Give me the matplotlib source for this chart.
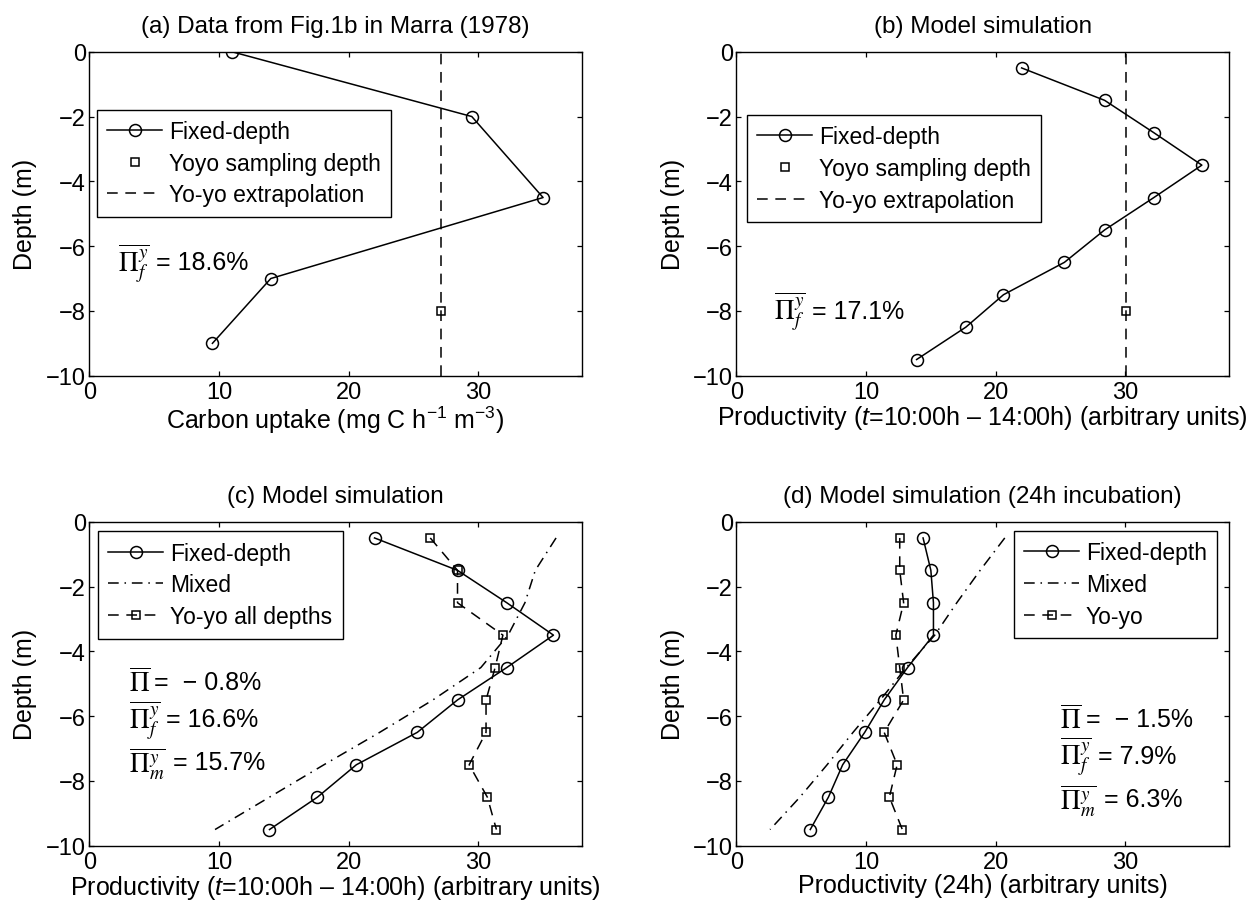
"""Productivity profiles: fixed-depth vs yo-yo vs mixed incubations.

Four panels (a)-(d) with depth on the y axis, redrawn in a MATLAB-like
style (inward ticks on all sides, open markers, boxed legends).
"""

import matplotlib

matplotlib.use("Agg")
import matplotlib.pyplot as plt

plt.rcParams["font.family"] = ["Liberation Sans", "DejaVu Sans"]
plt.rcParams["mathtext.fontset"] = "custom"
plt.rcParams["mathtext.rm"] = "Liberation Sans"
plt.rcParams["mathtext.it"] = "Liberation Sans:italic"
plt.rcParams["mathtext.bf"] = "Liberation Sans:bold"

# ---------------------------------------------------------------------------
# Data
# ---------------------------------------------------------------------------

# (a) Marra (1978)
depth_a = [0, -2, -4.5, -7, -9]
fixed_a = [11.0, 29.5, 35.0, 14.0, 9.5]
yoyo_depth_a = [-8]
yoyo_a = [27.15]
extrap_a = 27.15
pi_fy_a = "18.6%"

# model depths, used by (b), (c) and (d)
depth_model = [-0.5, -1.5, -2.5, -3.5, -4.5, -5.5, -6.5, -7.5, -8.5, -9.5]

# (b) model simulation, t=10:00h - 14:00h
fixed_b = [22.0, 28.4, 32.2, 35.9, 32.2, 28.4, 25.3, 20.6, 17.7, 13.9]
yoyo_depth_b = [-8]
yoyo_b = [30.05]
extrap_b = 30.05
pi_fy_b = "17.1%"

# (c) model simulation, all yo-yo depths
fixed_c = [22.0, 28.4, 32.2, 35.8, 32.2, 28.4, 25.3, 20.6, 17.6, 13.9]
mixed_c = [36.0, 34.4, 33.6, 32.3, 30.2, 26.5, 22.4, 18.1, 13.9, 9.7]
yoyo_c = [26.3, 28.4, 28.4, 31.9, 31.3, 30.6, 30.6, 29.3, 30.7, 31.4]
stats_c = ["\u2212 0.8%", "16.6%", "15.7%"]

# (d) model simulation, 24h incubation
fixed_d = [14.4, 15.0, 15.2, 15.2, 13.2, 11.4, 9.9, 8.2, 7.1, 5.7]
mixed_d = [20.7, 18.8, 17.0, 15.3, 13.1, 11.1, 9.0, 7.0, 4.9, 2.6]
yoyo_d = [12.6, 12.6, 12.9, 12.3, 12.6, 12.9, 11.4, 12.4, 11.8, 12.8]
stats_d = ["\u2212 1.5%", "7.9%", "6.3%"]

titles = [
    "(a) Data from Fig.1b in Marra (1978)",
    "(b) Model simulation",
    "(c) Model simulation",
    "(d) Model simulation (24h incubation)",
]
xlabels = [
    r"Carbon uptake (mg C h$^{-1}$ m$^{-3}$)",
    "Productivity ($t$=10:00h \u2013 14:00h) (arbitrary units)",
    "Productivity ($t$=10:00h \u2013 14:00h) (arbitrary units)",
    "Productivity (24h) (arbitrary units)",
]
xlabel_pads = [0.0, -0.5, -0.5, -0.5]

# ---------------------------------------------------------------------------
# Styling
# ---------------------------------------------------------------------------

FIG_W, FIG_H, DPI = 12.57, 9.03, 100
AX_W, AX_H = 0.392, 0.3588
AX_X = [0.0710, 0.5858]
AX_Y = [0.5828, 0.0623]

TITLE_FS = 17.5
LABEL_FS = 18
TICK_FS = 17
LEGEND_FS = 16.5
NOTE_FS = 18

LW = 1.1
DASH = (7.0, 5.0)
DASHDOT = (7.0, 3.8, 1.0, 3.8)
CIRCLE = dict(marker="o", markersize=8.6, markerfacecolor="none",
              markeredgecolor="black", markeredgewidth=1.1)
SQUARE = dict(marker="s", markersize=6.4, markerfacecolor="none",
              markeredgecolor="black", markeredgewidth=1.1)

# horizontal gap between the Pi symbol and the "= value" text (axes fraction)
NOTE_OFFSET = {None: 0.052, "f": 0.076, "m": 0.090}


def style_axes(ax, title, xlabel, xlabel_pad):
    ax.set_xlim(0, 38)
    ax.set_ylim(-10, 0)
    ax.set_xticks([0, 10, 20, 30])
    ax.set_yticks([0, -2, -4, -6, -8, -10])
    ax.tick_params(direction="in", top=True, right=True, length=3.6,
                   width=0.9, labelsize=TICK_FS)
    ax.tick_params(axis="x", pad=4.0)
    ax.tick_params(axis="y", pad=2.5)
    for spine in ax.spines.values():
        spine.set_linewidth(1.0)
    ax.set_title(title, fontsize=TITLE_FS, pad=14)
    ax.set_xlabel(xlabel, fontsize=LABEL_FS, labelpad=xlabel_pad)
    ax.set_ylabel("Depth (m)", fontsize=LABEL_FS, labelpad=6)


def add_legend(ax, x0, y_top):
    leg = ax.legend(loc="upper left", bbox_to_anchor=(x0, y_top),
                    borderaxespad=0, fontsize=LEGEND_FS, frameon=True,
                    fancybox=False, framealpha=1, edgecolor="black",
                    handlelength=2.4, handletextpad=0.3, borderpad=0.45,
                    labelspacing=0.38, numpoints=1)
    leg.get_frame().set_linewidth(1.0)
    return leg


def note(ax, x, y, sub, value):
    if sub is None:
        sym = r"$\overline{\Pi}$"
    else:
        sym = r"$\overline{\Pi_{%s}^{y}}$" % sub
    ax.text(x, y, sym, transform=ax.transAxes, fontsize=NOTE_FS + 1.5,
            va="center", ha="left", math_fontfamily="stix")
    ax.text(x + NOTE_OFFSET[sub], y, "= " + value, transform=ax.transAxes,
            fontsize=NOTE_FS, va="center", ha="left")


def plot_single_yoyo(ax, depth, fixed, yoyo_depth, yoyo, extrap):
    ax.plot(fixed, depth, color="black", lw=LW, label="Fixed-depth", **CIRCLE)
    ax.plot(yoyo, yoyo_depth, linestyle="none", label="Yoyo sampling depth",
            **SQUARE)
    ax.axvline(extrap, color="black", lw=LW, dashes=DASH,
               label="Yo-yo extrapolation")


def plot_profiles(ax, fixed, mixed, yoyo, yoyo_label):
    ax.plot(fixed, depth_model, color="black", lw=LW, label="Fixed-depth",
            **CIRCLE)
    ax.plot(mixed, depth_model, color="black", lw=LW, dashes=DASHDOT,
            label="Mixed")
    ax.plot(yoyo, depth_model, color="black", lw=LW, dashes=DASH,
            label=yoyo_label, **SQUARE)


def main():
    fig = plt.figure(figsize=(FIG_W, FIG_H), dpi=DPI)
    axes = [
        fig.add_axes([AX_X[0], AX_Y[0], AX_W, AX_H]),
        fig.add_axes([AX_X[1], AX_Y[0], AX_W, AX_H]),
        fig.add_axes([AX_X[0], AX_Y[1], AX_W, AX_H]),
        fig.add_axes([AX_X[1], AX_Y[1], AX_W, AX_H]),
    ]

    # (a)
    ax = axes[0]
    plot_single_yoyo(ax, depth_a, fixed_a, yoyo_depth_a, yoyo_a, extrap_a)
    add_legend(ax, 0.0156, 0.821)
    note(ax, 0.059, 0.351, "f", pi_fy_a)

    # (b)
    ax = axes[1]
    plot_single_yoyo(ax, depth_model, fixed_b, yoyo_depth_b, yoyo_b, extrap_b)
    add_legend(ax, 0.021, 0.805)
    note(ax, 0.077, 0.20, "f", pi_fy_b)

    # (c)
    ax = axes[2]
    plot_profiles(ax, fixed_c, mixed_c, yoyo_c, "Yo-yo all depths")
    add_legend(ax, 0.0177, 0.970)
    note(ax, 0.080, 0.504, None, " " + stats_c[0])
    note(ax, 0.080, 0.391, "f", stats_c[1])
    note(ax, 0.080, 0.257, "m", stats_c[2])

    # (d)
    ax = axes[3]
    plot_profiles(ax, fixed_d, mixed_d, yoyo_d, "Yo-yo")
    add_legend(ax, 0.563, 0.972)
    note(ax, 0.657, 0.391, None, " " + stats_d[0])
    note(ax, 0.657, 0.278, "f", stats_d[1])
    note(ax, 0.657, 0.144, "m", stats_d[2])

    for ax, title, xlabel, pad in zip(axes, titles, xlabels, xlabel_pads):
        style_axes(ax, title, xlabel, pad)

    fig.savefig("out.png", dpi=DPI)
    plt.close(fig)


if __name__ == "__main__":
    main()
